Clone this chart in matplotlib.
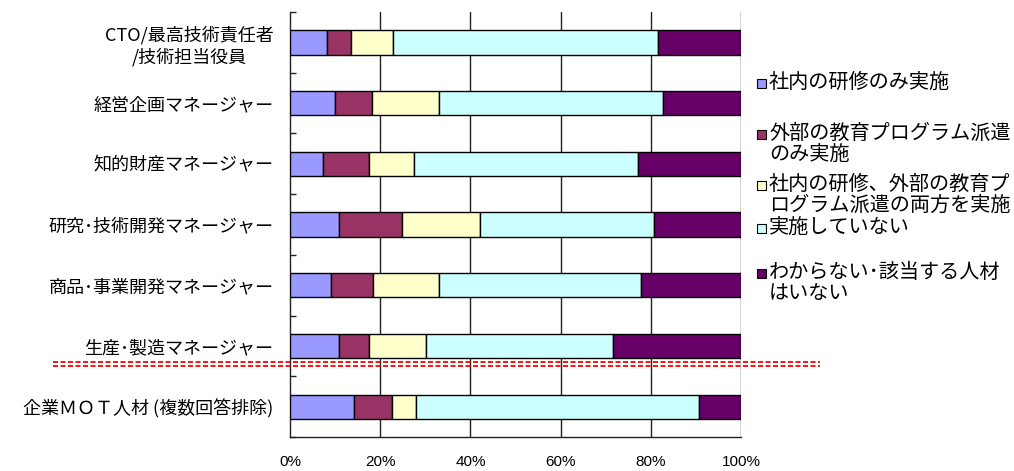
import matplotlib
matplotlib.use("Agg")
import matplotlib.pyplot as plt
import numpy as np
from matplotlib.lines import Line2D
from matplotlib.patches import Rectangle
from matplotlib.transforms import blended_transform_factory

plt.rcParams["font.family"] = ["Noto Sans CJK JP", "DejaVu Sans"]
plt.rcParams["lines.scale_dashes"] = False

categories = [
    "CTO/最高技術責任者\n/技術担当役員",
    "経営企画マネージャー",
    "知的財産マネージャー",
    "研究･技術開発マネージャー",
    "商品･事業開発マネージャー",
    "生産･製造マネージャー",
    "企業ＭＯＴ人材 (複数回答排除)",
]

series_names = [
    "社内の研修のみ実施",
    "外部の教育プログラム派遣\nのみ実施",
    "社内の研修、外部の教育プ\nログラム派遣の両方を実施",
    "実施していない",
    "わからない･該当する人材\nはいない",
]

internal_only = [8.1, 10.0, 7.3, 10.8, 9.2, 10.8, 14.1]
external_only = [5.5, 8.2, 10.2, 14.0, 9.1, 6.7, 8.5]
both = [9.3, 14.8, 10.1, 17.3, 14.7, 12.7, 5.4]
none_done = [58.8, 49.6, 49.5, 38.5, 44.8, 41.4, 62.7]
unknown = [18.3, 17.4, 22.9, 19.4, 22.2, 28.4, 9.3]

series_values = [internal_only, external_only, both, none_done, unknown]
colors = ["#9999FF", "#993366", "#FFFFCC", "#CCFFFF", "#660066"]

x_ticks = [0, 20, 40, 60, 80, 100]
x_tick_labels = ["0%", "20%", "40%", "60%", "80%", "100%"]

W, H = 1014, 471
fig = plt.figure(figsize=(W / 100, H / 100), dpi=100)
ax = fig.add_axes([290 / W, 1 - 437 / H, 451 / W, 425 / H])

y = np.arange(len(categories))
left = np.zeros(len(categories))
for vals, col in zip(series_values, colors):
    vals = np.asarray(vals)
    ax.barh(y, vals, left=left, height=0.4, color=col, edgecolor="black",
            linewidth=1.0, zorder=3)
    left += vals

ax.set_xlim(0, 100)
ax.set_ylim(len(categories) - 0.5, -0.5)

# vertical gridlines
ax.set_xticks(x_ticks)
ax.set_xticklabels(x_tick_labels, family="Liberation Sans", fontsize=11)
ax.tick_params(axis="x", length=0, pad=13)
for xv in x_ticks[1:]:
    ax.axvline(xv, color="#222222", linewidth=1.0, zorder=1)

ax.set_yticks(y)
ax.set_yticklabels(categories, fontsize=13, linespacing=1.2,
                   multialignment="center")
ax.tick_params(axis="y", which="major", length=0, pad=12)
ax.set_yticks(np.arange(-0.5, len(categories), 1.0), minor=True)
ax.tick_params(axis="y", which="minor", direction="in", length=4,
               width=1.0, color="#222222")

for s in ["top", "right"]:
    ax.spines[s].set_visible(False)
for s in ["left", "bottom"]:
    ax.spines[s].set_color("#222222")
    ax.spines[s].set_linewidth(1.0)

# double red dashed separator above the aggregate row
trans = blended_transform_factory(fig.transFigure, ax.transData)
for yy in (5.26, 5.325):
    ln = Line2D([53 / W, 820 / W], [yy, yy], transform=trans, color="red",
                linewidth=1.3, linestyle=(0, (3.6, 1.8)), clip_on=False,
                zorder=5)
    fig.add_artist(ln)

# legend
legend_rows = [83, 134, 185, 228, 273]
for name, col, ty in zip(series_names, colors, legend_rows):
    fig.add_artist(Rectangle((757 / W, 1 - (ty + 5) / H), 9 / W, 9 / H,
                             transform=fig.transFigure, facecolor=col,
                             edgecolor="black", linewidth=0.8))
    fig.text(769 / W, 1 - (ty - 11) / H, name, fontsize=14.5, va="top",
             ha="left", linespacing=1.0)

fig.savefig("out.png", dpi=100)
